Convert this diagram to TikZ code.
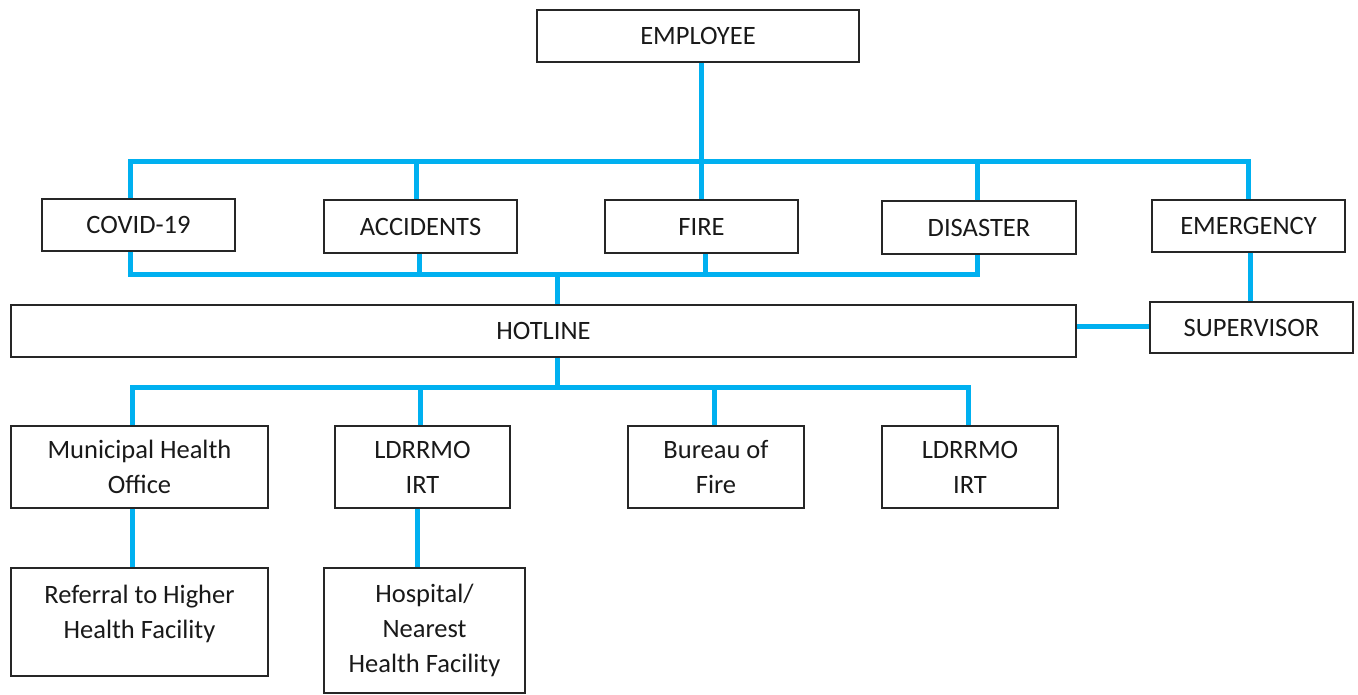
\documentclass[tikz,border=0pt]{standalone}
\usepackage{fontspec}
\setmainfont{Carlito}
\definecolor{linkblue}{RGB}{0,176,240}
\definecolor{boxline}{RGB}{38,38,38}
\begin{document}
\begin{tikzpicture}[x=1pt,y=-1pt,
  box/.style={draw=boxline,line width=1.3pt,rectangle,inner sep=0pt,align=center,
    text=black!90,font=\fontsize{26.5}{35}\selectfont},
  link/.style={draw=linkblue,line width=5pt,line join=miter}]
\useasboundingbox (0,0) rectangle (1358,694);

% top level
\node[box,minimum width=322,minimum height=52] (emp) at (698,36) {EMPLOYEE};

% incident categories
\node[box,minimum width=193,minimum height=52] (covid) at (138.5,225) {COVID-19};
\node[box,minimum width=193,minimum height=53] (acc) at (420.5,226.5) {ACCIDENTS};
\node[box,minimum width=193,minimum height=53] (fire) at (701.5,226.5) {FIRE};
\node[box,minimum width=194,minimum height=53] (dis) at (979,227.5) {DISASTER};
\node[box,minimum width=193,minimum height=52] (emer) at (1248.5,226) {EMERGENCY};

% hotline and supervisor
\node[box,minimum width=1065,minimum height=52] (hot) at (543.5,331) {HOTLINE};
\node[box,minimum width=203,minimum height=51] (sup) at (1251.5,327.5) {SUPERVISOR};

% responders
\node[box,minimum width=257,minimum height=82] (mho) at (139.5,467) {Municipal Health\\Office};
\node[box,minimum width=175,minimum height=82] (ld1) at (422.5,467) {LDRRMO\\IRT};
\node[box,minimum width=176,minimum height=82] (bof) at (716,467) {Bureau of\\Fire};
\node[box,minimum width=176,minimum height=82] (ld2) at (970,467) {LDRRMO\\IRT};

% referrals
\node[box,minimum width=257,minimum height=108,text depth=20pt] (ref) at (139.5,622) {Referral to Higher\\Health Facility};
\node[box,minimum width=201,minimum height=125] (hosp) at (424.5,630.5) {Hospital/\\Nearest\\Health Facility};

% bus lines
\coordinate (tb) at (701,161);
\coordinate (lb) at (557,274);
\coordinate (bb) at (557,387);

% employee to categories
\draw[link] ([xshift=3]emp.south) -- ([xshift=3]emp.south |- tb);
\draw[link] ([xshift=-8]covid.north) |- (emer.north |- tb) -- (emer.north);
\draw[link] ([xshift=-4.5]acc.north) -- ([xshift=-4.5]acc.north |- tb);
\draw[link] ([xshift=-0.5]fire.north) -- ([xshift=-0.5]fire.north |- tb);
\draw[link] ([xshift=-1.5]dis.north) -- ([xshift=-1.5]dis.north |- tb);

% categories to hotline
\draw[link] ([xshift=-8.5]covid.south) |- ([xshift=-2]dis.south |- lb) -- ([xshift=-2]dis.south);
\draw[link] ([xshift=-1]acc.south) -- ([xshift=-1]acc.south |- lb);
\draw[link] ([xshift=3.5]fire.south) -- ([xshift=3.5]fire.south |- lb);
\draw[link] (hot.north -| lb) -- (lb);

% emergency path
\draw[link] ([xshift=1.5]emer.south) -- ([xshift=1.5]emer.south |- sup.north);
\draw[link] ([yshift=1.5]sup.west) -- ([yshift=1.5]sup.west -| hot.east);

% hotline to responders
\draw[link] (hot.south -| bb) -- (bb);
\draw[link] ([xshift=-7.5]mho.north) |- ([xshift=-2]ld2.north |- bb) -- ([xshift=-2]ld2.north);
\draw[link] ([xshift=-2.5]ld1.north) -- ([xshift=-2.5]ld1.north |- bb);
\draw[link] ([xshift=-2]bof.north) -- ([xshift=-2]bof.north |- bb);

% responders to referrals
\draw[link] ([xshift=-7.5]mho.south) -- ([xshift=-7.5]ref.north);
\draw[link] ([xshift=-5.5]ld1.south) -- ([xshift=-5.5]ld1.south |- hosp.north);
\end{tikzpicture}
\end{document}
